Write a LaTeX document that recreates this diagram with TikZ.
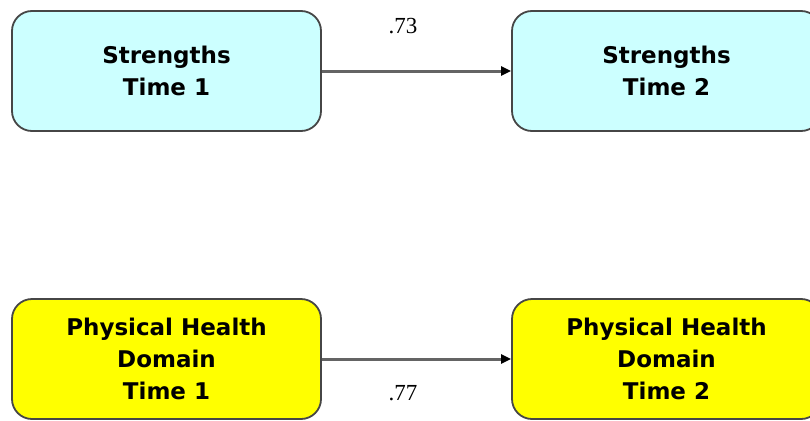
\documentclass[tikz,border=0pt]{standalone}
\usepackage{fontspec}
\setmainfont{Liberation Serif}
\newfontfamily\boxfont{DejaVu Sans}
\usetikzlibrary{arrows.meta}
\definecolor{paleCyan}{RGB}{204,255,255}
\definecolor{brightYellow}{RGB}{255,255,0}
\definecolor{edgeGray}{RGB}{70,70,70}
\definecolor{linkGray}{RGB}{100,100,100}
\begin{document}
\begin{tikzpicture}[x=1pt,y=-1pt,
  box/.style={draw=edgeGray, line width=1.8pt, rounded corners=20pt,
    minimum width=309pt, minimum height=120pt, inner sep=0pt, align=center,
    font=\boxfont\bfseries\fontsize{23}{32}\selectfont, text=black},
  strengthbox/.style={box, fill=paleCyan},
  healthbox/.style={box, fill=brightYellow},
  link/.style={draw=linkGray, line width=3pt, -{Triangle[length=10pt,width=9pt,fill=black,color=black]}},
  coef/.style={font=\fontsize{23}{26}\selectfont, text=black}]
\useasboundingbox (0,0) rectangle (810,420);
\node[strengthbox] (s1) at (166.5,71) {Strengths\\Time 1};
\node[strengthbox] (s2) at (666.5,71) {Strengths\\Time 2};
\node[healthbox] (p1) at (166.5,359) {Physical Health\\Domain\\Time 1};
\node[healthbox] (p2) at (666.5,359) {Physical Health\\Domain\\Time 2};
\draw[link] (s1) -- (s2);
\draw[link] (p1) -- (p2);
\node[coef] (c1) at (403,26) {.73};
\node[coef] (c2) at (403,393) {.77};
\end{tikzpicture}
\end{document}
